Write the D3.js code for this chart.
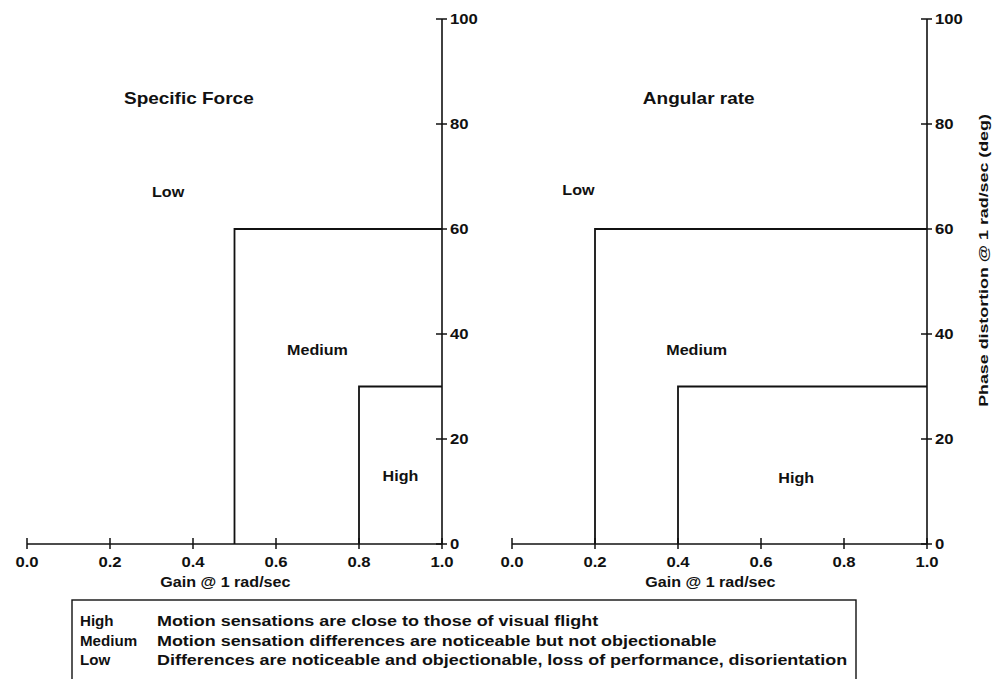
<!DOCTYPE html>
<html>
<head>
<meta charset="utf-8">
<script src="https://cdn.jsdelivr.net/npm/d3@7"></script>
<style>
  html, body { margin: 0; padding: 0; background: #fff; }
  svg { display: block; }
  text { font-family: "Liberation Sans", Arial, Helvetica, sans-serif; fill: #111; }
</style>
</head>
<body>
<svg id="chart" width="994" height="679"></svg>
<script>
// Motion fidelity criteria: gain vs phase distortion at 1 rad/sec
const panelTitles = ["Specific Force", "Angular rate"];
const gainTicks = [0.0, 0.2, 0.4, 0.6, 0.8, 1.0];
const phaseTicks = [0, 20, 40, 60, 80, 100];

// Region boundaries per panel: lower-left corner of each band (gain, phase)
const mediumGain = [0.5, 0.2];
const mediumPhase = [60, 60];
const highGain = [0.8, 0.4];
const highPhase = [30, 30];

// Region label anchors in data units
const regionNames = ["Low", "Medium", "High"];
const labelGain = [[0.34, 0.70, 0.90], [0.16, 0.445, 0.685]];
const labelPhase = [[67, 37, 13], [67.5, 37, 12.5]];
const titleGain = [0.39, 0.45];
const titlePhase = 85;

const legendLevels = ["High", "Medium", "Low"];
const legendText = [
  "Motion sensations are close to those of visual flight",
  "Motion sensation differences are noticeable but not objectionable",
  "Differences are noticeable and objectionable, loss of performance, disorientation"
];

const svg = d3.select("#chart");
const panelLeft = [27, 512];
const panelWidth = 415;
const plotTop = 19, plotBottom = 544;

const yScale = d3.scaleLinear().domain([0, 100]).range([plotBottom, plotTop]);

// The typeface runs wide: widen each label horizontally by a factor
function widen(sel, factor) {
  sel.each(function () {
    const w = this.getComputedTextLength();
    d3.select(this).attr("textLength", w * factor).attr("lengthAdjust", "spacingAndGlyphs");
  });
  return sel;
}

panelTitles.forEach((title, i) => {
  const x = d3.scaleLinear().domain([0, 1]).range([panelLeft[i], panelLeft[i] + panelWidth]);
  const g = svg.append("g");

  // horizontal gain axis
  g.append("line")
    .attr("x1", x(0)).attr("x2", x(1)).attr("y1", yScale(0)).attr("y2", yScale(0))
    .attr("stroke", "#111").attr("stroke-width", 1.6);
  g.selectAll(".xt").data(gainTicks).join("line")
    .attr("x1", d => x(d)).attr("x2", d => x(d))
    .attr("y1", yScale(0) - 6).attr("y2", yScale(0) + 5)
    .attr("stroke", "#111").attr("stroke-width", 1.5);
  widen(g.selectAll(".xl").data(gainTicks).join("text")
    .attr("x", d => x(d)).attr("y", yScale(0) + 23)
    .attr("text-anchor", "middle")
    .attr("font-size", 14.5).attr("font-weight", "bold")
    .text(d => d3.format(".1f")(d)), 1.15);
  widen(g.append("text")
    .attr("x", x(0.478)).attr("y", yScale(0) + 43)
    .attr("text-anchor", "middle")
    .attr("font-size", 14).attr("font-weight", "bold")
    .text("Gain @ 1 rad/sec"), 1.15);

  // vertical phase axis on the right edge
  g.append("line")
    .attr("x1", x(1)).attr("x2", x(1)).attr("y1", yScale(0)).attr("y2", yScale(100))
    .attr("stroke", "#111").attr("stroke-width", 1.6);
  g.selectAll(".yt").data(phaseTicks).join("line")
    .attr("x1", x(1) - 6).attr("x2", x(1) + 5)
    .attr("y1", d => yScale(d)).attr("y2", d => yScale(d))
    .attr("stroke", "#111").attr("stroke-width", 1.5);
  widen(g.selectAll(".yl").data(phaseTicks).join("text")
    .attr("x", x(1) + 8).attr("y", d => yScale(d) + 5)
    .attr("font-size", 14.5).attr("font-weight", "bold")
    .text(d => d), 1.15);

  // region boundaries
  const line = d3.line().x(d => x(d[0])).y(d => yScale(d[1]));
  [[mediumGain[i], mediumPhase[i]], [highGain[i], highPhase[i]]].forEach(([gx, py]) => {
    g.append("path")
      .attr("d", line([[gx, 0], [gx, py], [1, py]]))
      .attr("fill", "none").attr("stroke", "#111").attr("stroke-width", 1.8);
  });

  // region labels
  regionNames.forEach((name, k) => {
    widen(g.append("text")
      .attr("x", x(labelGain[i][k])).attr("y", yScale(labelPhase[i][k]) + 5)
      .attr("text-anchor", "middle")
      .attr("font-size", 14).attr("font-weight", "bold")
      .text(name), 1.15);
  });

  widen(g.append("text")
    .attr("x", x(titleGain[i])).attr("y", yScale(titlePhase) + 6)
    .attr("text-anchor", "middle")
    .attr("font-size", 16.5).attr("font-weight", 600)
    .text(title), 1.15);
});

// shared phase axis title
widen(svg.append("text")
  .attr("transform", `translate(988, ${yScale(54)}) rotate(-90)`)
  .attr("text-anchor", "middle")
  .attr("font-size", 13.5).attr("font-weight", "bold")
  .text("Phase distortion @ 1 rad/sec (deg)"), 1.32);

// legend table
const legend = svg.append("g");
legend.append("rect")
  .attr("x", 72).attr("y", 600).attr("width", 784).attr("height", 100)
  .attr("fill", "none").attr("stroke", "#111").attr("stroke-width", 1.4);
legendLevels.forEach((lvl, k) => {
  widen(legend.append("text")
    .attr("x", 80).attr("y", 626 + k * 19.5)
    .attr("font-size", 14).attr("font-weight", "bold")
    .text(lvl), 1.08);
  widen(legend.append("text")
    .attr("x", 157).attr("y", 626 + k * 19.5)
    .attr("font-size", 14).attr("font-weight", "bold")
    .text(legendText[k]), 1.28);
});
</script>
</body>
</html>
